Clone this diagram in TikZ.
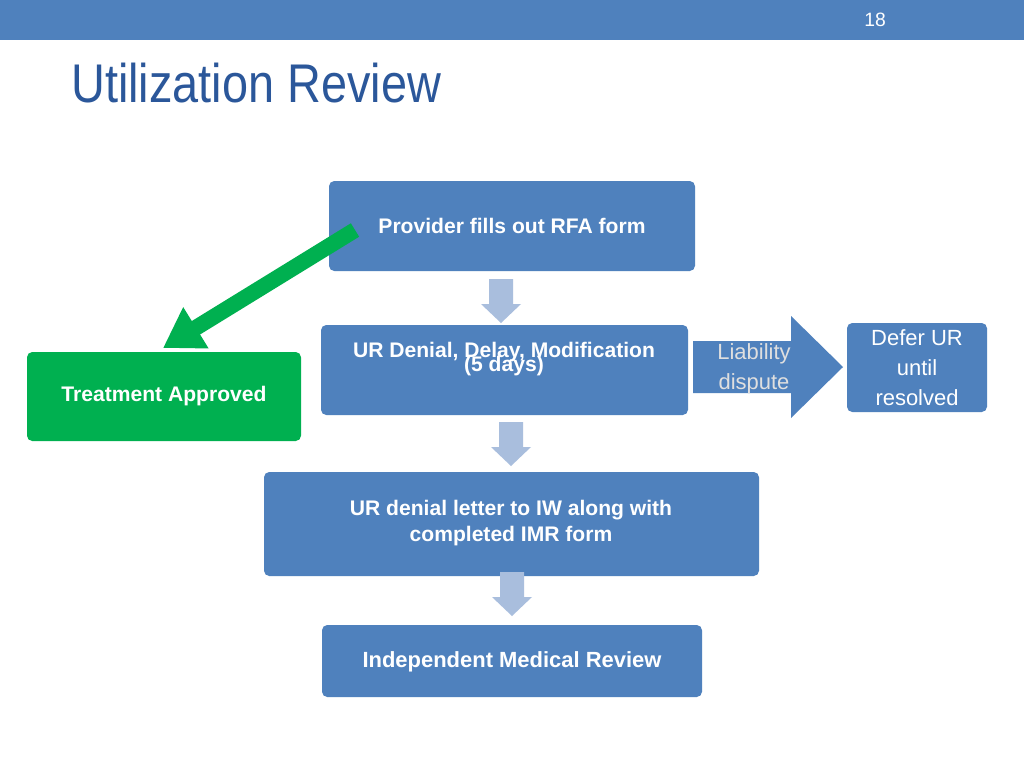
\documentclass[tikz,border=0pt]{standalone}
\usepackage{fontspec}
\setmainfont{Liberation Sans}
\usetikzlibrary{positioning,arrows.meta}
\definecolor{slideblue}{HTML}{4F81BD}
\definecolor{titleblue}{HTML}{2B579A}
\definecolor{paleblue}{HTML}{A9BEDD}
\definecolor{okgreen}{HTML}{00B050}
\tikzset{
  stepbox/.style={fill=slideblue, rounded corners=3pt, draw=none},
  boxtext/.style={text=white, font=\bfseries\fontsize{12}{14}\selectfont, align=center},
  downarrow/.style={fill=paleblue, draw=none}
}
\begin{document}
\begin{tikzpicture}[x=0.02cm, y=-0.02cm]
\useasboundingbox (0,0) rectangle (1024,768);
\fill[white] (0,0) rectangle (1024,768);
% top bar and title
\fill[slideblue] (0,0) rectangle (1024,40);
\node[text=white, font=\fontsize{11}{13}\selectfont] (pagenum) at (875,20) {18};
\node[anchor=west, text=titleblue, xscale=0.86, font=\fontsize{31}{36}\selectfont] (title) at (66,83) {Utilization Review};

% boxes
\fill[stepbox] (329,181) rectangle (695,271);
\node[boxtext] (rfa) at (512,226) {Provider fills out RFA form};
\fill[stepbox] (321,325) rectangle (688,415);
\node[boxtext] (urd) at (504,352) {UR Denial, Delay, Modification};
\node[boxtext, below=8pt of urd.center, anchor=center] (days) {(5 days)};
\fill[stepbox] (847,323) rectangle (987,412);
\node[text=white, align=center, font=\fontsize{12.5}{17}\selectfont] (defer) at (917,368) {Defer UR\\until\\resolved};
\fill[okgreen, rounded corners=3pt] (27,352) rectangle (301,441);
\node[boxtext] (approved) at (164,396) {Treatment Approved};
\fill[stepbox] (264,472) rectangle (759,576);
\node[boxtext, align=center, font=\bfseries\fontsize{12}{14.5}\selectfont] (letter) at (511,523) {UR denial letter to IW along with\\completed IMR form};
\fill[stepbox] (322,625) rectangle (702,697);
\node[boxtext, font=\bfseries\fontsize{12.5}{14}\selectfont] (imr) at (512,662) {Independent Medical Review};

% liability block arrow
\fill[slideblue] (693,341) -- (791,341) -- (791,316) -- (843,367) -- (791,418) -- (791,393) -- (693,393) -- cycle;
\node[text=gray!25, align=center, font=\fontsize{12.5}{17}\selectfont] (liab) at (754,369) {Liability\\dispute};

% down arrows
\foreach \cx/\ty in {501/279, 511/422, 512/572}{
  \fill[downarrow] (\cx-12,\ty) -- (\cx+12,\ty) -- (\cx+12,\ty+25) -- (\cx+20,\ty+25)
    -- (\cx,\ty+44) -- (\cx-20,\ty+25) -- (\cx-12,\ty+25) -- cycle;
}

% green arrow
\coordinate (gstart) at (355,230);
\coordinate (gend) at (163,348);
\draw[okgreen, line width=9pt, -{Triangle[length=22pt, width=26pt]}] (gstart) -- (gend);
\end{tikzpicture}
\end{document}
